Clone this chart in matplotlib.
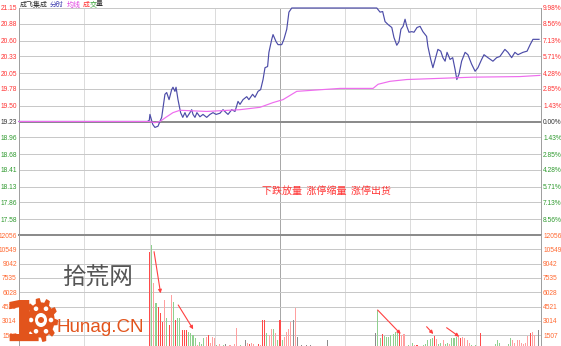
import matplotlib
matplotlib.use('Agg')
import matplotlib.pyplot as plt
import numpy as np
from matplotlib.patches import Polygon, Circle, Ellipse

W, H = 561, 346

# ---------------- data ----------------
prev_close = 19.23
price_min, price_max = 17.31, 21.15
price_ticks = [21.15, 20.88, 20.60, 20.33, 20.05, 19.78, 19.50, 19.23,
               18.96, 18.68, 18.41, 18.13, 17.86, 17.58]
pct_labels = ['9.98%', '8.56%', '7.13%', '5.71%', '4.28%', '2.85%', '1.43%', '0.00%',
              '1.43%', '2.85%', '4.28%', '5.71%', '7.13%', '8.56%']
vol_max = 12056
vol_ticks = [1507, 3014, 4521, 6028, 7535, 9042, 10549, 12056]
time_grid = [30, 60, 90, 120, 150, 180, 210]

price_minutes = [0, 59, 59.9, 60.2, 61.5, 62.5, 63.9, 65.6, 67.1, 67.9, 69.0, 70.2,
                 70.8, 71.7, 72.2, 73.1, 74.3, 75.3, 76.3, 77.2, 78.6, 79.4, 80.0,
                 80.9, 81.8, 83.2, 84.6, 86.3, 87.8, 89.2, 90.6, 92.4, 93.8, 95.2,
                 96.1, 97.8, 99.3, 100.7, 101.6, 103.0, 104.7, 105.7, 107.4, 108.5,
                 109.9, 111.1, 112.2, 113.1, 114.3, 114.9, 116.2, 116.8, 118.2,
                 119.1, 120.8, 121.8, 123.1, 124.1, 125.4,
                 164.5, 166.0, 167.2, 168.3, 169.7, 171.4, 172.4, 173.7, 174.7,
                 175.6, 176.6, 177.5, 178.3, 179.3, 180.6, 181.6, 183.0, 184.4,
                 185.7, 187.4, 188.0, 189.3, 190.3, 191.7, 192.6, 193.9, 194.9,
                 195.9, 196.8, 198.2, 199.4, 200.5, 201.3, 202.3, 203.5, 205.1,
                 206.4, 208.1, 209.7, 211.0, 212.7, 213.8, 215.6, 217.9, 219.6,
                 221.1, 223.4, 224.8, 226.5, 228.0, 229.4, 231.7, 233.6, 235.0,
                 236.3, 239.1]
price_values = [19.23, 19.23, 19.25, 19.35, 19.18, 19.13, 19.15, 19.30, 19.69, 19.72,
                19.60, 19.77, 19.81, 19.74, 19.81, 19.60, 19.38, 19.30, 19.38, 19.30,
                19.38, 19.43, 19.35, 19.30, 19.38, 19.31, 19.35, 19.30, 19.35, 19.38,
                19.35, 19.37, 19.43, 19.38, 19.35, 19.43, 19.40, 19.57, 19.52, 19.60,
                19.65, 19.60, 19.69, 19.64, 19.74, 19.77, 19.94, 20.14, 20.16, 20.40,
                20.62, 20.70, 20.58, 20.53, 20.53, 20.62, 20.79, 21.08, 21.15,
                21.15, 21.08, 21.09, 20.92, 20.87, 20.82, 20.65, 20.52, 20.58, 20.79,
                20.84, 20.96, 20.84, 20.74, 20.75, 20.74, 20.82, 20.84, 20.75, 20.67,
                20.50, 20.28, 20.14, 20.33, 20.45, 20.42, 20.31, 20.25, 20.40, 20.28,
                20.31, 20.11, 19.94, 20.03, 20.25, 20.40, 20.36, 20.20, 20.08, 20.14,
                20.28, 20.36, 20.31, 20.25, 20.31, 20.33, 20.45, 20.40, 20.31, 20.40,
                20.36, 20.40, 20.42, 20.53, 20.62, 20.62]

avg_minutes = [0, 59.9, 62.5, 64.8, 67.5, 70.8, 74.0, 86.3, 101.6, 110.8, 116.8,
               121.4, 127.7, 147.6, 162.8, 165.1, 170.6, 178.3, 193.6, 208.7,
               230.3, 239.5]
avg_values = [19.23, 19.23, 19.21, 19.23, 19.30, 19.38, 19.42, 19.40, 19.43, 19.47,
              19.55, 19.60, 19.74, 19.79, 19.79, 19.86, 19.91, 19.94, 19.96, 19.98,
              19.99, 20.01]

vol_start_minute = 60
vol_values = [
    10213, 11004, 6999, 4891, 4500, 3837, 2920, 5207, 3310, 2572,   # 60-69
    5734, 5027, 3099, 3310, 3310, 2045, 2045, 2045, 1866, 1729,      # 70-79
    1518, 1200, 500, 750, 600, 1200, 1330, 1500, 700, 1330,          # 80-89
    1150, 450, 600, 350, 450, 600, 350, 450, 350, 600,               # 90-99
    2300, 350, 450, 350, 950, 700, 600, 700, 600, 350,               # 100-109
    600, 450, 3150, 3150, 1750, 1500, 2100, 2100, 1750, 950,         # 110-119
    3150, 950, 1330, 1850, 2100, 2900, 3100, 4400, 1330, 350,        # 120-129
    450, 350, 450, 350, 450, 350, 350, 250, 250, 250,                # 130-139
    350, 250, 950, 200, 150, 250, 150, 200, 150, 300,                # 140-149
    200, 150, 250, 200, 150, 350, 150, 200, 350, 150,                # 150-159
    200, 150, 250, 200, 1700, 4150, 1150, 1600, 1400, 1330,          # 160-169
    1330, 1500, 1600, 1850, 1750, 1850, 1500, 1600, 350, 450,        # 170-179
    350, 700, 450, 450, 250, 350, 450, 600, 950, 1050,               # 180-189
    1150, 1400, 1050, 600, 700, 950, 600, 700, 600, 1150,            # 190-199
    1250, 1350, 1400, 1250, 1300, 1150, 950, 700, 450, 350,          # 200-209
    450, 350, 1750, 350, 250, 250, 350, 250, 250, 600,               # 210-219
    950, 700, 350, 250, 250, 600, 1150, 950, 700, 950,               # 220-229
    950, 700, 600, 700, 1400, 1700, 1850, 1500, 350, 2050,           # 230-239
]
# r = red (up), p = light red, g = green (down), k = grey (flat)
vol_kinds = ("rgpgrrrpgr"   # 60-69
             "pgrggrrrgg"   # 70-79
             "ggpgggprpp"   # 80-89
             "pgppgkppgp"   # 90-99
             "ppgpkprppg"   # 100-109
             "rprrgppgpg"   # 110-119
             "rgppppkpkk"   # 120-129
             "kkkrkkkkkk"   # 130-139
             "kkkkkkkkkk"   # 140-149
             "kkkkkkkkkk"   # 150-159
             "kkkkkggrgg"   # 160-169
             "gggggrppkg"   # 170-179
             "pgprkggggg"   # 180-189
             "grpggpggpg"   # 190-199
             "ggprppppgk"   # 200-209
             "gkrpkkpkrg"   # 210-219
             "ggpkpggppp"   # 220-229
             "ppppprppkk")  # 230-239

# arrows on the volume panel: (minute, volume) start -> end
arrow_starts = [(62.1, 10298), (73.2, 4680), (164.9, 4153), (187.4, 2393), (196.6, 2287)]
arrow_ends = [(65.1, 5913), (80.1, 2119), (175.5, 1623), (190.5, 1623), (202.4, 1339)]

note_text = '下跌放量  涨停缩量  涨停出货'
note_pos = (111.7, 18.05)

title_parts = [('成飞集成', '#333333'), ('分时', '#4040b0'), ('均线', '#e040e0'),
               ('成', '#ff3333'), ('交', '#30a030'), ('量', '#333333')]

# ---------------- styling ----------------
RED = '#ff3333'
GREEN = '#2f9a2f'
DARK = '#333333'
ORANGE = '#ff6a33'
kind_color = {'r': '#ff4a4a', 'p': '#ffa0a0', 'g': '#8fd08f', 'k': '#8c8c8c'}
LABEL_FONT = ['Liberation Sans', 'DejaVu Sans']
CJK = ['Noto Sans CJK SC', 'DejaVu Sans']
GRID = '#c8c8c8'
px = 0.72  # one pixel in points at dpi 100
LS = 4.8

fig = plt.figure(figsize=(W / 100, H / 100), dpi=100)
fig.patch.set_facecolor('white')

left, right = 19, 541
p_top, p_bot = 8, 235
v_top, v_bot = 235, 349.4

ax_p = fig.add_axes([left / W, 1 - p_bot / H, (right - left) / W, (p_bot - p_top) / H])
ax_v = fig.add_axes([left / W, 1 - v_bot / H, (right - left) / W, (v_bot - v_top) / H])

for ax in (ax_p, ax_v):
    ax.set_xlim(0, 240)
    ax.set_facecolor('none')
    for s in ('top', 'bottom'):
        ax.spines[s].set_visible(False)
    for s in ('left', 'right'):
        ax.spines[s].set_color('#a0a0a0')
        ax.spines[s].set_linewidth(px)
    ax.set_xticks([])
    for t in time_grid:
        ax.axvline(t, color='#a8a8a8' if t == 120 else '#dcdcdc', lw=px, zorder=0.5)

# price panel
ax_p.set_ylim(price_min, price_max)
for v in price_ticks:
    if v == prev_close:
        continue
    ax_p.axhline(v, color=GRID, lw=px, zorder=0.6)
ax_p.axhline(prev_close, color='#8c8c8c', lw=2 * px, zorder=0.7)
ax_p.set_yticks(price_ticks)
ax_p.set_yticklabels([f'{v:.2f}' for v in price_ticks])
ax_p.tick_params(axis='y', length=0, pad=1.5, labelsize=LS)
for lab, v in zip(ax_p.get_yticklabels(), price_ticks):
    lab.set_fontfamily(LABEL_FONT)
    lab.set_color(RED if v > prev_close else (DARK if v == prev_close else GREEN))

ax_r = ax_p.twinx()
ax_r.set_ylim(price_min, price_max)
ax_r.set_yticks(price_ticks)
ax_r.set_yticklabels(pct_labels)
ax_r.tick_params(axis='y', length=0, pad=1.5, labelsize=LS)
for s in ax_r.spines.values():
    s.set_visible(False)
for lab, v in zip(ax_r.get_yticklabels(), price_ticks):
    lab.set_fontfamily(LABEL_FONT)
    lab.set_color(RED if v > prev_close else (DARK if v == prev_close else GREEN))

ax_p.plot(price_minutes, price_values, color='#4c4ca8', lw=0.85, zorder=3, clip_on=False)
ax_p.plot(avg_minutes, avg_values, color='#ee6cee', lw=0.85, zorder=4, clip_on=False)

ax_p.text(note_pos[0], note_pos[1], note_text, color=RED, fontsize=7.2,
          family=CJK, ha='left', va='center', zorder=5)

# volume panel
ax_v.set_ylim(0, vol_max)
for v in vol_ticks[:-1]:
    ax_v.axhline(v, color=GRID, lw=px, zorder=0.6)
ax_v.axhline(vol_max, color='#8c8c8c', lw=2 * px, zorder=0.7, clip_on=False)
vol_minutes = np.arange(vol_start_minute, vol_start_minute + len(vol_values))
ax_v.bar(vol_minutes, vol_values, width=0.5,
         color=[kind_color[k] for k in vol_kinds], linewidth=0, zorder=2)
ax_v.set_yticks(vol_ticks)
ax_v.set_yticklabels([str(v) for v in vol_ticks])
ax_v.tick_params(axis='y', length=0, pad=1.5, labelsize=LS, labelright=True,
                 labelcolor=ORANGE)
for lab in ax_v.get_yticklabels():
    lab.set_fontfamily(LABEL_FONT)

for (sx, sy), (ex, ey) in zip(arrow_starts, arrow_ends):
    ax_v.annotate('', xy=(ex, ey), xytext=(sx, sy),
                  arrowprops=dict(arrowstyle='-|>', color='#ff4040', lw=0.8,
                                  mutation_scale=5, shrinkA=0, shrinkB=0),
                  zorder=6)

# title row
x = 20
for txt, col in title_parts:
    fig.text(x / W, 1 - 4.5 / H, txt, color=col, fontsize=5, family=CJK,
             ha='left', va='center')
    x += 6.4 * len(txt) + (4 if txt in ('成飞集成', '分时', '均线') else 0)

# watermark logo (overlay in pixel coordinates)
ov = fig.add_axes([0, 0, 1, 1], zorder=10)
ov.set_xlim(0, W)
ov.set_ylim(H, 0)
ov.axis('off')
ov.patch.set_alpha(0)
LOGO = '#e2541c'
ov.text(3, 342, '1', color=LOGO, fontsize=41, fontweight='bold',
        family='DejaVu Sans', ha='left', va='baseline')
cx, cy = 41, 320
ang = np.linspace(0, 2 * np.pi, 81)[:-1]
rad = np.where((np.arange(80) // 4) % 2 == 0, 1.0, 0.8)
ov.add_patch(Polygon(np.c_[cx + 17 * rad * np.cos(ang), cy + 22 * rad * np.sin(ang)],
                     closed=True, color=LOGO, lw=0))
ov.add_patch(Ellipse((cx, cy), 12, 14, color='white', lw=0))
ov.add_patch(Circle((cx, cy), 3, color=LOGO, lw=0))
for a in np.linspace(0, 2 * np.pi, 7)[:-1]:
    ov.add_patch(Circle((cx + 10 * np.cos(a), cy + 13 * np.sin(a)), 2.3,
                        color='white', lw=0))
ov.text(62, 278, '拾荒网', color='#555555', fontsize=17, family=CJK,
        ha='left', va='center')
ov.text(57, 332, 'Hunag.CN', color=LOGO, fontsize=13.5, family=['Liberation Sans'],
        ha='left', va='baseline')

fig.savefig('out.png', dpi=100, facecolor='white')
